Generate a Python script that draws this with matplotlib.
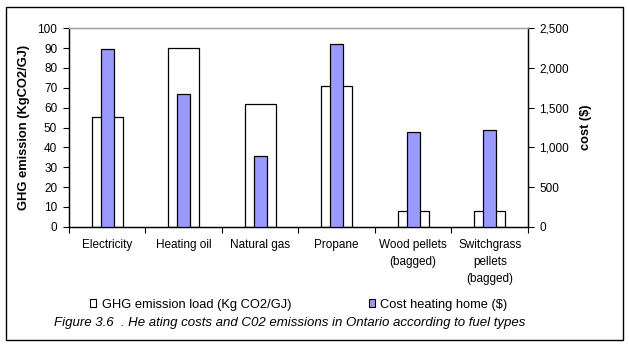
import matplotlib
matplotlib.use("Agg")
import matplotlib.pyplot as plt
import matplotlib.patches as mpatches
from matplotlib.ticker import FuncFormatter, FixedLocator
import numpy as np

plt.rcParams['font.family'] = ['Liberation Sans', 'DejaVu Sans']

categories = ["Electricity", "Heating oil", "Natural gas", "Propane",
              "Wood pellets\n(bagged)", "Switchgrass\npellets\n(bagged)"]
ghg_emission = [55.5, 90, 62, 71, 8, 8]          # Kg CO2/GJ
heating_cost = [2235, 1668, 891, 2302, 1189, 1218]  # $

ghg_label = "GHG emission load (Kg CO2/GJ)"
cost_label = "Cost heating home ($)"
caption = "Figure 3.6  . He ating costs and C02 emissions in Ontario according to fuel types"

fig = plt.figure(figsize=(6.29, 3.47), dpi=100)
ax = fig.add_axes([0.1097, 0.3467, 0.7297, 0.5717])
ax2 = ax.twinx()

x = np.arange(len(categories))
ax.bar(x, ghg_emission, width=0.41, color="white", edgecolor="black", linewidth=0.9, zorder=2)
ax2.bar(x, heating_cost, width=0.175, color="#9999FF", edgecolor="black", linewidth=0.9, zorder=3)

ax.set_xlim(-0.5, len(categories) - 0.5)
ax.set_ylim(0, 100)
ax2.set_ylim(0, 2500)
ax.set_yticks(np.arange(0, 101, 10))
ax2.set_yticks(np.arange(0, 2501, 500))
ax2.yaxis.set_major_formatter(FuncFormatter(lambda v, p: f"{int(v):,}"))

# category labels centred, ticks on boundaries
ax.xaxis.set_major_locator(FixedLocator(np.arange(-0.5, len(categories), 1.0)))
ax.xaxis.set_minor_locator(FixedLocator(x))
ax.set_xticklabels([])
ax.set_xticklabels(categories, minor=True, fontsize=8.5, linespacing=1.6, va="top")
ax.tick_params(axis="x", which="major", direction="out", length=4, width=0.8)
ax.tick_params(axis="x", which="minor", length=0, pad=8.5)

ax.tick_params(axis="y", direction="out", length=4, width=0.8, labelsize=8.5, pad=4.5)
ax2.tick_params(axis="y", direction="out", length=4, width=0.8, labelsize=8.5, pad=4.3)

for a in (ax, ax2):
    a.spines["top"].set_color("#a0a0a0")
    a.spines["top"].set_linewidth(0.9)
    for s in ("left", "right", "bottom"):
        a.spines[s].set_linewidth(0.9)

ax.set_ylabel("GHG emission (KgCO2/GJ)", fontsize=9.3, fontweight="bold", labelpad=5)
ax2.set_ylabel("cost ($)", fontsize=9.2, fontweight="bold", labelpad=7.5)

handles = [mpatches.Patch(facecolor="white", edgecolor="black", linewidth=0.8, label=ghg_label),
           mpatches.Patch(facecolor="#9999FF", edgecolor="black", linewidth=0.8, label=cost_label)]
fig.legend(handles=handles, loc="center", bbox_to_anchor=(0.475, 0.122), ncol=2,
           frameon=False, fontsize=9.3, handlelength=0.5, handleheight=0.5,
           handletextpad=0.4, columnspacing=6.0)

fig.text(0.461, 0.07, caption, ha="center", va="center", fontsize=9.5, style="italic")

# outer frame
fig.patches.append(mpatches.Rectangle((6 / 629, 7 / 347), 617 / 629, 333 / 347,
                                      transform=fig.transFigure, fill=False,
                                      edgecolor="black", linewidth=1.0))

fig.savefig("out.png", dpi=100)
